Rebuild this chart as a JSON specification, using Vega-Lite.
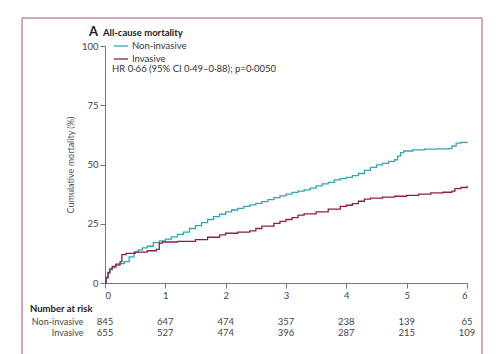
{
  "$schema": "https://vega.github.io/schema/vega-lite/v6.json",
  "padding": {"left": 21, "top": 17, "right": 15, "bottom": 0},
  "background": "white",
  "bounds": "flush",
  "spacing": 33,
  "config": {
    "view": {"stroke": null},
    "font": "Lato",
    "axis": {"grid": false, "domainColor": "#777", "tickColor": "#777", "labelColor": "#444", "labelFontSize": 9.5, "titleFontSize": 9, "titleFontWeight": "normal", "titleColor": "#555", "tickSize": 5, "labelPadding": 2}
  },
  "datasets": {
    "one": [{}],
    "curves": [
      {"group": "Non-invasive", "t": 0, "v": 0},
      {"group": "Non-invasive", "t": 0.02, "v": 2},
      {"group": "Non-invasive", "t": 0.05, "v": 4},
      {"group": "Non-invasive", "t": 0.08, "v": 5.5},
      {"group": "Non-invasive", "t": 0.12, "v": 6.5},
      {"group": "Non-invasive", "t": 0.18, "v": 7.5},
      {"group": "Non-invasive", "t": 0.25, "v": 8.2},
      {"group": "Non-invasive", "t": 0.32, "v": 9},
      {"group": "Non-invasive", "t": 0.4, "v": 11},
      {"group": "Non-invasive", "t": 0.48, "v": 13},
      {"group": "Non-invasive", "t": 0.55, "v": 14},
      {"group": "Non-invasive", "t": 0.62, "v": 14.8},
      {"group": "Non-invasive", "t": 0.7, "v": 15.5},
      {"group": "Non-invasive", "t": 0.8, "v": 17},
      {"group": "Non-invasive", "t": 0.9, "v": 17.8},
      {"group": "Non-invasive", "t": 1.0, "v": 18.5},
      {"group": "Non-invasive", "t": 1.1, "v": 19.5},
      {"group": "Non-invasive", "t": 1.2, "v": 20.5},
      {"group": "Non-invasive", "t": 1.3, "v": 21.5},
      {"group": "Non-invasive", "t": 1.4, "v": 23},
      {"group": "Non-invasive", "t": 1.5, "v": 24.2},
      {"group": "Non-invasive", "t": 1.6, "v": 25.5},
      {"group": "Non-invasive", "t": 1.7, "v": 26.8},
      {"group": "Non-invasive", "t": 1.8, "v": 28},
      {"group": "Non-invasive", "t": 1.9, "v": 29},
      {"group": "Non-invasive", "t": 2.0, "v": 30},
      {"group": "Non-invasive", "t": 2.1, "v": 30.8},
      {"group": "Non-invasive", "t": 2.2, "v": 31.5},
      {"group": "Non-invasive", "t": 2.3, "v": 32.3},
      {"group": "Non-invasive", "t": 2.4, "v": 33},
      {"group": "Non-invasive", "t": 2.5, "v": 33.6},
      {"group": "Non-invasive", "t": 2.6, "v": 34.3},
      {"group": "Non-invasive", "t": 2.7, "v": 35.2},
      {"group": "Non-invasive", "t": 2.8, "v": 36},
      {"group": "Non-invasive", "t": 2.9, "v": 36.8},
      {"group": "Non-invasive", "t": 3.0, "v": 37.5},
      {"group": "Non-invasive", "t": 3.1, "v": 38.2},
      {"group": "Non-invasive", "t": 3.2, "v": 38.8},
      {"group": "Non-invasive", "t": 3.3, "v": 39.3},
      {"group": "Non-invasive", "t": 3.4, "v": 40},
      {"group": "Non-invasive", "t": 3.5, "v": 41},
      {"group": "Non-invasive", "t": 3.6, "v": 41.8},
      {"group": "Non-invasive", "t": 3.7, "v": 42.5},
      {"group": "Non-invasive", "t": 3.8, "v": 43.5},
      {"group": "Non-invasive", "t": 3.9, "v": 44},
      {"group": "Non-invasive", "t": 4.0, "v": 44.6},
      {"group": "Non-invasive", "t": 4.1, "v": 45.3},
      {"group": "Non-invasive", "t": 4.2, "v": 46.2},
      {"group": "Non-invasive", "t": 4.3, "v": 47.5},
      {"group": "Non-invasive", "t": 4.4, "v": 48.8},
      {"group": "Non-invasive", "t": 4.5, "v": 49.8},
      {"group": "Non-invasive", "t": 4.6, "v": 50.5},
      {"group": "Non-invasive", "t": 4.7, "v": 51.3},
      {"group": "Non-invasive", "t": 4.8, "v": 52},
      {"group": "Non-invasive", "t": 4.85, "v": 53.5},
      {"group": "Non-invasive", "t": 4.9, "v": 55},
      {"group": "Non-invasive", "t": 4.95, "v": 55.7},
      {"group": "Non-invasive", "t": 5.1, "v": 56.2},
      {"group": "Non-invasive", "t": 5.3, "v": 56.5},
      {"group": "Non-invasive", "t": 5.5, "v": 56.6},
      {"group": "Non-invasive", "t": 5.7, "v": 56.8},
      {"group": "Non-invasive", "t": 5.75, "v": 57.8},
      {"group": "Non-invasive", "t": 5.82, "v": 59},
      {"group": "Non-invasive", "t": 5.9, "v": 59.3},
      {"group": "Non-invasive", "t": 6.0, "v": 59},
      {"group": "Invasive", "t": 0, "v": 0},
      {"group": "Invasive", "t": 0.02, "v": 2.5},
      {"group": "Invasive", "t": 0.05, "v": 4.5},
      {"group": "Invasive", "t": 0.08, "v": 6},
      {"group": "Invasive", "t": 0.12, "v": 7},
      {"group": "Invasive", "t": 0.18, "v": 8},
      {"group": "Invasive", "t": 0.25, "v": 9},
      {"group": "Invasive", "t": 0.28, "v": 12},
      {"group": "Invasive", "t": 0.35, "v": 12.5},
      {"group": "Invasive", "t": 0.5, "v": 13},
      {"group": "Invasive", "t": 0.7, "v": 13.6},
      {"group": "Invasive", "t": 0.85, "v": 14.2},
      {"group": "Invasive", "t": 0.9, "v": 16.8},
      {"group": "Invasive", "t": 0.95, "v": 17.3},
      {"group": "Invasive", "t": 1.2, "v": 17.6},
      {"group": "Invasive", "t": 1.5, "v": 18.3},
      {"group": "Invasive", "t": 1.7, "v": 19.3},
      {"group": "Invasive", "t": 1.9, "v": 20.3},
      {"group": "Invasive", "t": 2.0, "v": 21},
      {"group": "Invasive", "t": 2.2, "v": 21.5},
      {"group": "Invasive", "t": 2.4, "v": 22},
      {"group": "Invasive", "t": 2.5, "v": 23},
      {"group": "Invasive", "t": 2.6, "v": 24},
      {"group": "Invasive", "t": 2.8, "v": 25.2},
      {"group": "Invasive", "t": 2.9, "v": 26},
      {"group": "Invasive", "t": 3.0, "v": 26.8},
      {"group": "Invasive", "t": 3.1, "v": 27.6},
      {"group": "Invasive", "t": 3.2, "v": 28.6},
      {"group": "Invasive", "t": 3.3, "v": 29.2},
      {"group": "Invasive", "t": 3.5, "v": 30},
      {"group": "Invasive", "t": 3.7, "v": 31.2},
      {"group": "Invasive", "t": 3.9, "v": 32.3},
      {"group": "Invasive", "t": 4.0, "v": 32.8},
      {"group": "Invasive", "t": 4.1, "v": 33.5},
      {"group": "Invasive", "t": 4.2, "v": 34.5},
      {"group": "Invasive", "t": 4.3, "v": 35.4},
      {"group": "Invasive", "t": 4.4, "v": 35.8},
      {"group": "Invasive", "t": 4.6, "v": 36.2},
      {"group": "Invasive", "t": 4.8, "v": 36.6},
      {"group": "Invasive", "t": 5.0, "v": 37},
      {"group": "Invasive", "t": 5.2, "v": 37.5},
      {"group": "Invasive", "t": 5.4, "v": 38},
      {"group": "Invasive", "t": 5.6, "v": 38.3},
      {"group": "Invasive", "t": 5.75, "v": 38.8},
      {"group": "Invasive", "t": 5.8, "v": 39.8},
      {"group": "Invasive", "t": 5.9, "v": 40.3},
      {"group": "Invasive", "t": 6.0, "v": 41}
    ],
    "risk": [
      {"group": "Non-invasive", "t": 0, "n": 845},
      {"group": "Non-invasive", "t": 1, "n": 647},
      {"group": "Non-invasive", "t": 2, "n": 474},
      {"group": "Non-invasive", "t": 3, "n": 357},
      {"group": "Non-invasive", "t": 4, "n": 238},
      {"group": "Non-invasive", "t": 5, "n": 139},
      {"group": "Non-invasive", "t": 6, "n": 65},
      {"group": "Invasive", "t": 0, "n": 655},
      {"group": "Invasive", "t": 1, "n": 527},
      {"group": "Invasive", "t": 2, "n": 474},
      {"group": "Invasive", "t": 3, "n": 396},
      {"group": "Invasive", "t": 4, "n": 287},
      {"group": "Invasive", "t": 5, "n": 215},
      {"group": "Invasive", "t": 6, "n": 109}
    ]
  },
  "vconcat": [
    {
      "width": 362,
      "height": 237,
      "layer": [
        {
          "data": {"name": "curves"},
          "mark": {"type": "line", "interpolate": "step-after", "strokeWidth": 1.3},
          "encoding": {
            "x": {"field": "t", "type": "quantitative", "scale": {"domain": [0, 6], "nice": false}, "axis": {"values": [0, 1, 2, 3, 4, 5, 6], "format": "d", "title": null}},
            "y": {"field": "v", "type": "quantitative", "scale": {"domain": [0, 100], "nice": false}, "axis": {"values": [0, 25, 50, 75, 100], "title": "Cumulative mortality (%)", "titlePadding": 6}},
            "color": {"field": "group", "type": "nominal", "scale": {"domain": ["Non-invasive", "Invasive"], "range": ["#2ea7b8", "#8e1d4b"]},
              "legend": {"orient": "none", "legendX": 8, "legendY": -8, "title": null, "symbolType": "stroke", "symbolSize": 196, "symbolStrokeWidth": 1.3, "labelFontSize": 9.5, "labelColor": "#333", "rowPadding": -1, "labelOffset": 3}}
          }
        },
        {
          "data": {"name": "one"},
          "mark": {"type": "text", "align": "left", "baseline": "middle", "fontSize": 9.5, "color": "#333"},
          "encoding": {"x": {"datum": 0.116}, "y": {"datum": 90.4}, "text": {"value": "HR 0·66 (95% CI 0·49–0·88); p=0·0050"}}
        },
        {
          "data": {"name": "one"},
          "mark": {"type": "text", "align": "center", "baseline": "middle", "fontSize": 13, "fontWeight": "bold", "color": "#222"},
          "encoding": {"x": {"datum": -0.19}, "y": {"datum": 105.9}, "text": {"value": "A"}}
        },
        {
          "data": {"name": "one"},
          "mark": {"type": "text", "align": "left", "baseline": "middle", "fontSize": 9.5, "fontWeight": "bold", "color": "#222"},
          "encoding": {"x": {"datum": -0.033}, "y": {"datum": 105.5}, "text": {"value": "All-cause mortality"}}
        },
        {
          "data": {"name": "one"},
          "mark": {"type": "rule", "color": "#a8506e", "strokeWidth": 1},
          "encoding": {"x": {"datum": -1.375}, "x2": {"datum": 6.249}, "y": {"datum": 111.8}}
        },
        {
          "data": {"name": "one"},
          "mark": {"type": "rule", "color": "#a8506e", "strokeWidth": 1},
          "encoding": {"x": {"datum": -1.375}, "y": {"datum": 111.8}, "y2": {"datum": -30.4}}
        },
        {
          "data": {"name": "one"},
          "mark": {"type": "rule", "color": "#a8506e", "strokeWidth": 1},
          "encoding": {"x": {"datum": 6.249}, "y": {"datum": 111.8}, "y2": {"datum": -30.4}}
        }
      ]
    },
    {
      "width": 362,
      "height": 22,
      "data": {"name": "risk"},
      "title": {"text": "Number at risk", "anchor": "start", "frame": "group", "dx": -75, "offset": 3, "fontSize": 9.5, "fontWeight": "bold", "color": "#222"},
      "mark": {"type": "text", "fontSize": 9.5, "color": "#444", "baseline": "middle"},
      "encoding": {
        "x": {"field": "t", "type": "quantitative", "scale": {"domain": [0, 6], "nice": false}, "axis": null},
        "y": {"field": "group", "type": "nominal", "sort": ["Non-invasive", "Invasive"], "scale": {"paddingInner": 0, "paddingOuter": 0}, "axis": {"title": null, "ticks": false, "domain": false, "labelPadding": 22, "labelFontSize": 9, "labelColor": "#444"}},
        "text": {"field": "n", "type": "quantitative"}
      }
    }
  ]
}
